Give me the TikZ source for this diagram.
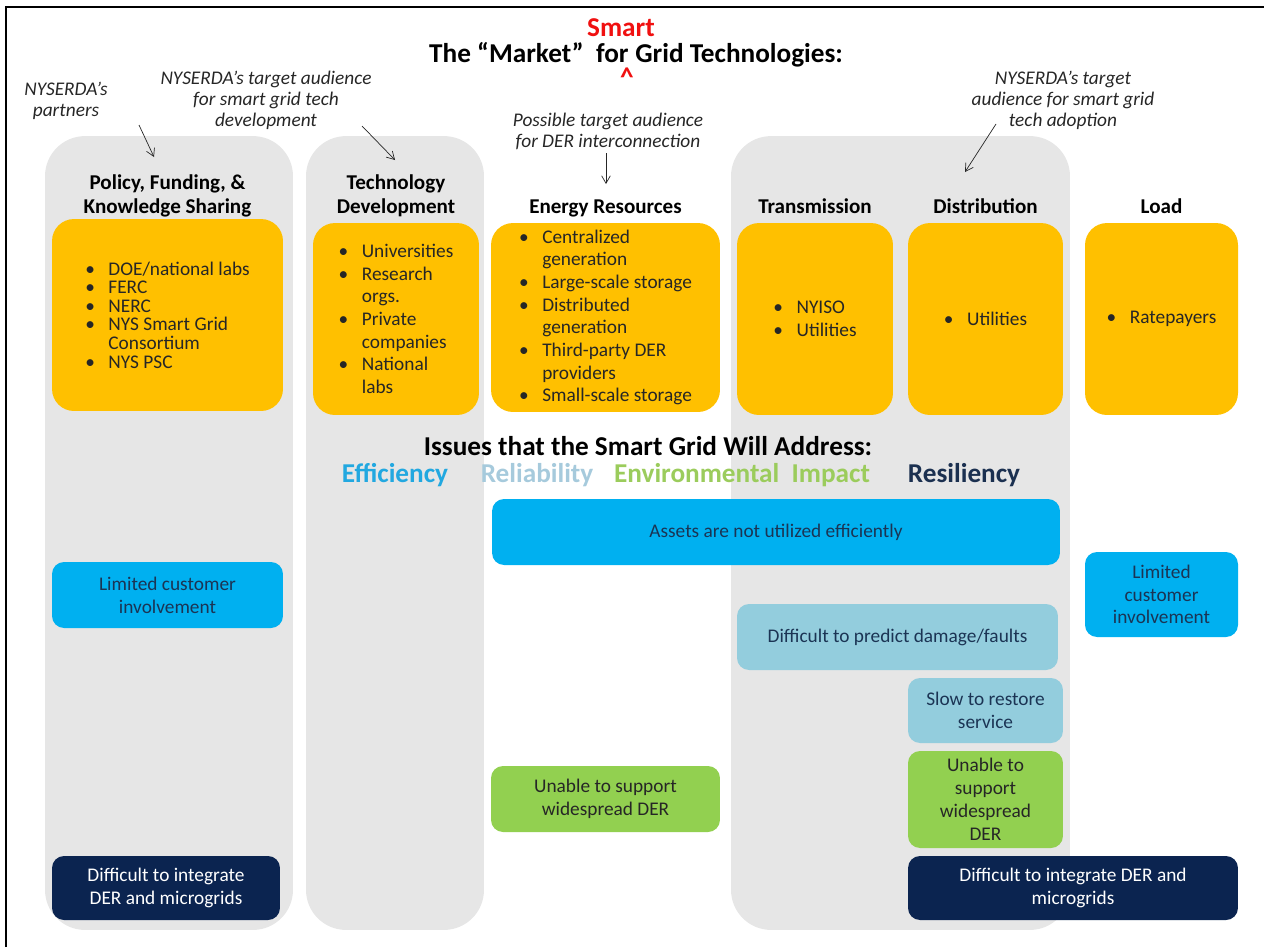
\documentclass[tikz,border=0pt]{standalone}
\usepackage{fontspec}
\setmainfont{Carlito}
\usetikzlibrary{arrows.meta,positioning}

\definecolor{laneGray}{HTML}{E6E6E6}
\definecolor{actorGold}{HTML}{FFC000}
\definecolor{effBlue}{HTML}{00B0F0}
\definecolor{relBlue}{HTML}{93CDDD}
\definecolor{envGreen}{HTML}{92D050}
\definecolor{resNavy}{HTML}{0B2450}
\definecolor{inkNavy}{HTML}{1B3454}
\definecolor{effTag}{HTML}{22A8E0}
\definecolor{relTag}{HTML}{A6CADC}
\definecolor{envTag}{HTML}{9BCC5C}
\definecolor{resTag}{HTML}{1B3050}
\definecolor{fixRed}{HTML}{F01010}

% bullet and hanging indent for the actor lists
\newcommand{\bul}{\makebox[1.2em][l]{\textbullet}}
\newcommand{\hang}{\hspace*{1.2em}}

\begin{document}
\begin{tikzpicture}
  [
    x=0.02cm, y=-0.02cm,
    Lane/.style={fill=laneGray, rounded corners=0.8cm, inner sep=0pt, minimum height=15.88cm},
    Actor/.style={fill=actorGold, rounded corners=0.44cm, minimum height=3.84cm, align=left, text=black!85, font=\fontsize{11}{12.9}\selectfont},
    Head/.style={font=\fontsize{12}{13.2}\selectfont\bfseries, align=center, inner sep=1pt, text depth=0.25em},
    Note/.style={font=\fontsize{11}{12}\selectfont\itshape, align=center, text=black!85},
    Issue/.style={rounded corners=0.24cm, align=center, text=inkNavy, font=\fontsize{11}{13}\selectfont},
    Tag/.style={font=\fontsize{15.5}{17}\selectfont\bfseries, anchor=base},
    Pointer/.style={-{Straight Barb[angle=60:5pt]}, thin, black!85}
  ]
  \useasboundingbox (0,0) rectangle (1264,947);
  \draw[line width=1pt] (6,947) -- (6,7) -- (1264,7);

  % Lanes
  \node[Lane, minimum width=4.96cm] (lanePolicy) at (169,533) {};
  \node[Lane, minimum width=3.56cm] (laneTech) at (395,533) {};
  \node[Lane, minimum width=6.78cm] (laneGrid) at (900.5,533) {};

  % Title
  \node[Tag, anchor=base east, inner sep=0pt] (titleL) at (629,62) {The “Market”\ \ for};
  \node[Tag, anchor=base west, inner sep=0pt] (titleR) at (635,62) {Grid Technologies:};
  \node[Tag, text=fixRed, inner sep=0pt] (fixWord) at (621,36) {Smart};
  \node[Tag, text=fixRed, anchor=north, inner sep=0pt] (fixMark) at (627,68) {\textasciicircum};

  % Notes
  \node[Note] (notePartners) at (66,101) {NYSERDA’s\\partners};
  \node[Note] (noteDev) at (266,100) {NYSERDA’s target audience\\for smart grid tech\\development};
  \node[Note] (noteDER) at (608,131) {Possible target audience\\for DER interconnection};
  \node[Note] (noteAdopt) at (1063,100) {NYSERDA’s target\\audience for smart grid\\tech adoption};

  % Actors
  \node[Actor, minimum width=4.62cm, font=\fontsize{11}{10.6}\selectfont] (actPolicy) at (167.5,315)
    {\bul DOE/national labs\\\bul FERC\\\bul NERC\\\bul NYS Smart Grid\\\hang Consortium\\\bul NYS PSC};
  \node[Actor, minimum width=3.32cm] (actTech) at (396,319)
    {\bul Universities\\\bul Research\\\hang orgs.\\\bul Private\\\hang companies\\\bul National\\\hang labs};
  \node[Actor, minimum width=4.58cm, minimum height=3.78cm] (actEnergy) at (605.5,317.5)
    {\bul Centralized\\\hang generation\\\bul Large-scale storage\\\bul Distributed\\\hang generation\\\bul Third-party DER\\\hang providers\\\bul Small-scale storage};
  \node[Actor, minimum width=3.12cm] (actTrans) at (815,319) {\bul NYISO\\\bul Utilities};
  \node[Actor, minimum width=3.10cm] (actDist) at (985.5,319) {\bul Utilities};
  \node[Actor, minimum width=3.06cm] (actLoad) at (1161.5,319) {\bul Ratepayers};

  % Heads
  \node[Head, above=0.06cm of actPolicy.north|-actTech.north] (headPolicy) {Policy, Funding, \&\\Knowledge Sharing};
  \node[Head, above=0.06cm of actTech] (headTech) {Technology\\Development};
  \node[Head, above=0.06cm of actEnergy.north|-actTech.north] (headEnergy) {Energy Resources};
  \node[Head, above=0.06cm of actTrans] (headTrans) {Transmission};
  \node[Head, above=0.06cm of actDist] (headDist) {Distribution};
  \node[Head, above=0.06cm of actLoad] (headLoad) {Load};

  % Issues
  \node[Tag] (issuesTitle) at (648,455) {Issues that the Smart Grid Will Address:};
  \node[Tag, text=effTag] (tagEff) at (395,482) {Efficiency};
  \node[Tag, text=relTag] (tagRel) at (537,482) {Reliability};
  \node[Tag, text=envTag] (tagEnv) at (742,482) {Environmental\ \ Impact};
  \node[Tag, text=resTag] (tagRes) at (964,482) {Resiliency};

  \node[Issue, fill=effBlue, minimum width=11.36cm, minimum height=1.32cm] (issAssets) at (776,532) {Assets are not utilized efficiently};
  \node[Issue, fill=effBlue, minimum width=4.62cm, minimum height=1.32cm] (issCustL) at (167.5,595) {Limited customer\\involvement};
  \node[Issue, fill=effBlue, minimum width=3.06cm, minimum height=1.70cm] (issCustR) at (1161.5,594.5) {Limited\\customer\\involvement};
  \node[Issue, fill=relBlue, minimum width=6.42cm, minimum height=1.32cm] (issPredict) at (897.5,637) {Difficult to predict damage/faults};
  \node[Issue, fill=relBlue, minimum width=3.10cm, minimum height=1.30cm] (issRestore) at (985.5,710.5) {Slow to restore\\service};
  \node[Issue, fill=envGreen, text=black!85, minimum width=4.58cm, minimum height=1.32cm] (issDERMid) at (605.5,799) {Unable to support\\widespread DER};
  \node[Issue, fill=envGreen, text=black!85, minimum width=3.10cm, minimum height=1.94cm] (issDERR) at (985.5,799.5) {Unable to\\support\\widespread\\DER};
  \node[Issue, fill=resNavy, text=white, minimum width=4.56cm, minimum height=1.28cm] (issGridL) at (166,888) {Difficult to integrate\\DER and microgrids};
  \node[Issue, fill=resNavy, text=white, minimum width=6.60cm, minimum height=1.28cm] (issGridR) at (1073,888) {Difficult to integrate DER and\\microgrids};

  % Pointers
  \coordinate (fromPartners) at (139,125);
  \coordinate (toPartners) at (154,157);
  \coordinate (fromDev) at (362,126);
  \coordinate (toDev) at (395,160);
  \coordinate (fromDER) at (606,153);
  \coordinate (toDER) at (606,184);
  \coordinate (fromAdopt) at (996,124);
  \coordinate (toAdopt) at (965,172);
  \draw[Pointer] (fromPartners) -- (toPartners);
  \draw[Pointer] (fromDev) -- (toDev);
  \draw[Pointer] (fromDER) -- (toDER);
  \draw[Pointer] (fromAdopt) -- (toAdopt);
\end{tikzpicture}
\end{document}
